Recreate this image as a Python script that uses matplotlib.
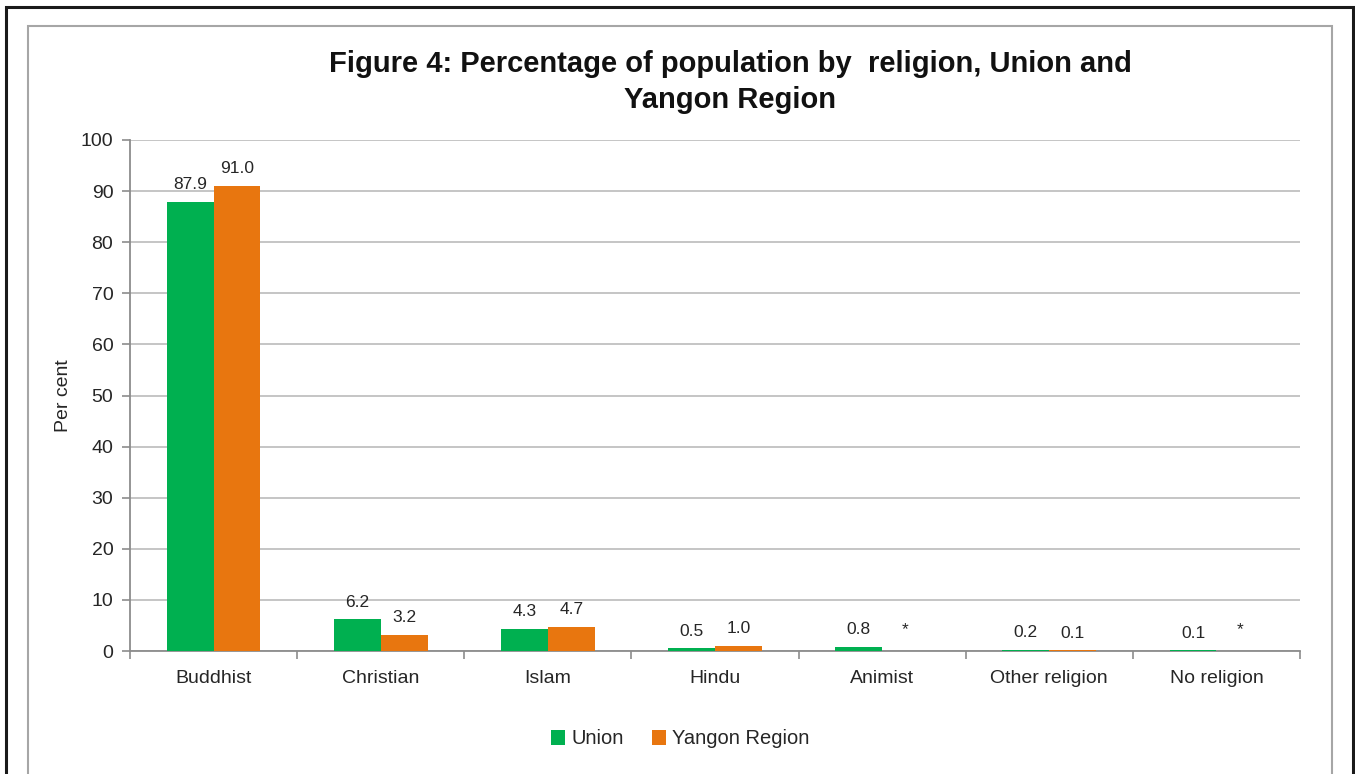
import matplotlib
matplotlib.use("Agg")
import matplotlib.pyplot as plt
import matplotlib.patches as mpatches
import numpy as np

plt.rcParams["font.family"] = ["Liberation Sans", "DejaVu Sans"]

categories = ["Buddhist", "Christian", "Islam", "Hindu", "Animist", "Other religion", "No religion"]
union = [87.9, 6.2, 4.3, 0.5, 0.8, 0.2, 0.1]
yangon = [91.0, 3.2, 4.7, 1.0, 0.0, 0.1, 0.0]
union_labels = ["87.9", "6.2", "4.3", "0.5", "0.8", "0.2", "0.1"]
yangon_labels = ["91.0", "3.2", "4.7", "1.0", "*", "0.1", "*"]

GREEN = "#00B050"
ORANGE = "#E8760F"
GRID = "#C0C0C0"
AXIS = "#8C8C8C"
TEXT = "#262626"

W, H = 1355, 774
fig = plt.figure(figsize=(W / 100, H / 100), dpi=100)
fig.patch.set_facecolor("white")

# outer black frame and inner grey chart-area frame (bottom runs off the image)
fig.patches.append(mpatches.Rectangle(
    (6 / W, -0.05), (1353 - 6) / W, 1 - 7 / H + 0.05,
    transform=fig.transFigure, fill=False, edgecolor="#1a1a1a", linewidth=2.2))
fig.patches.append(mpatches.Rectangle(
    (28 / W, -0.05), (1332 - 28) / W, 1 - 26 / H + 0.05,
    transform=fig.transFigure, fill=False, edgecolor="#A6A6A6", linewidth=1.5))

ax = fig.add_axes([130 / W, 1 - 651 / H, (1300 - 130) / W, (651 - 140) / H])

x = np.arange(len(categories))
bw = 0.28
b1 = ax.bar(x - bw / 2, union, bw, color=GREEN, label="Union", zorder=3)
b2 = ax.bar(x + bw / 2, yangon, bw, color=ORANGE, label="Yangon Region", zorder=3)

for bars, labels in ((b1, union_labels), (b2, yangon_labels)):
    for rect, lab in zip(bars, labels):
        dy = 10 if lab == "*" else 7
        ax.annotate(lab, (rect.get_x() + rect.get_width() / 2, rect.get_height()),
                    xytext=(0, dy), textcoords="offset points",
                    ha="center", va="bottom", fontsize=12.5, color=TEXT)

ax.set_xlim(-0.5, len(categories) - 0.5)
ax.set_ylim(0, 100)
ax.set_yticks(range(0, 101, 10))
ax.yaxis.grid(True, color=GRID, linewidth=1.3, zorder=0)
ax.set_axisbelow(True)

ax.set_xticks(x)
ax.set_xticklabels(categories)
ax.set_xticks(np.arange(-0.5, len(categories), 1.0), minor=True)
ax.tick_params(axis="x", which="major", length=0, pad=14, labelsize=14, labelcolor=TEXT)
ax.tick_params(axis="x", which="minor", length=6, width=1.2, color=AXIS)
ax.tick_params(axis="y", length=6, width=1.2, color=AXIS, pad=6, labelsize=14, labelcolor=TEXT)

for s in ("top", "right"):
    ax.spines[s].set_visible(False)
for s in ("left", "bottom"):
    ax.spines[s].set_color(AXIS)
    ax.spines[s].set_linewidth(1.3)

ax.set_ylabel("Per cent", fontsize=14, color=TEXT, labelpad=6)

fig.text(730 / W, 1 - 82 / H,
         "Figure 4: Percentage of population by  religion, Union and\nYangon Region",
         ha="center", va="center", fontsize=21, fontweight="bold",
         color="#111111", linespacing=1.4)

leg = fig.legend(handles=[b1, b2], loc="center", bbox_to_anchor=(680 / W, 1 - 739 / H),
                 ncol=2, frameon=False, fontsize=14.5, handlelength=0.7,
                 handleheight=0.7, handletextpad=0.3, columnspacing=1.4)
for t in leg.get_texts():
    t.set_color(TEXT)

fig.savefig("out.png", dpi=100)
